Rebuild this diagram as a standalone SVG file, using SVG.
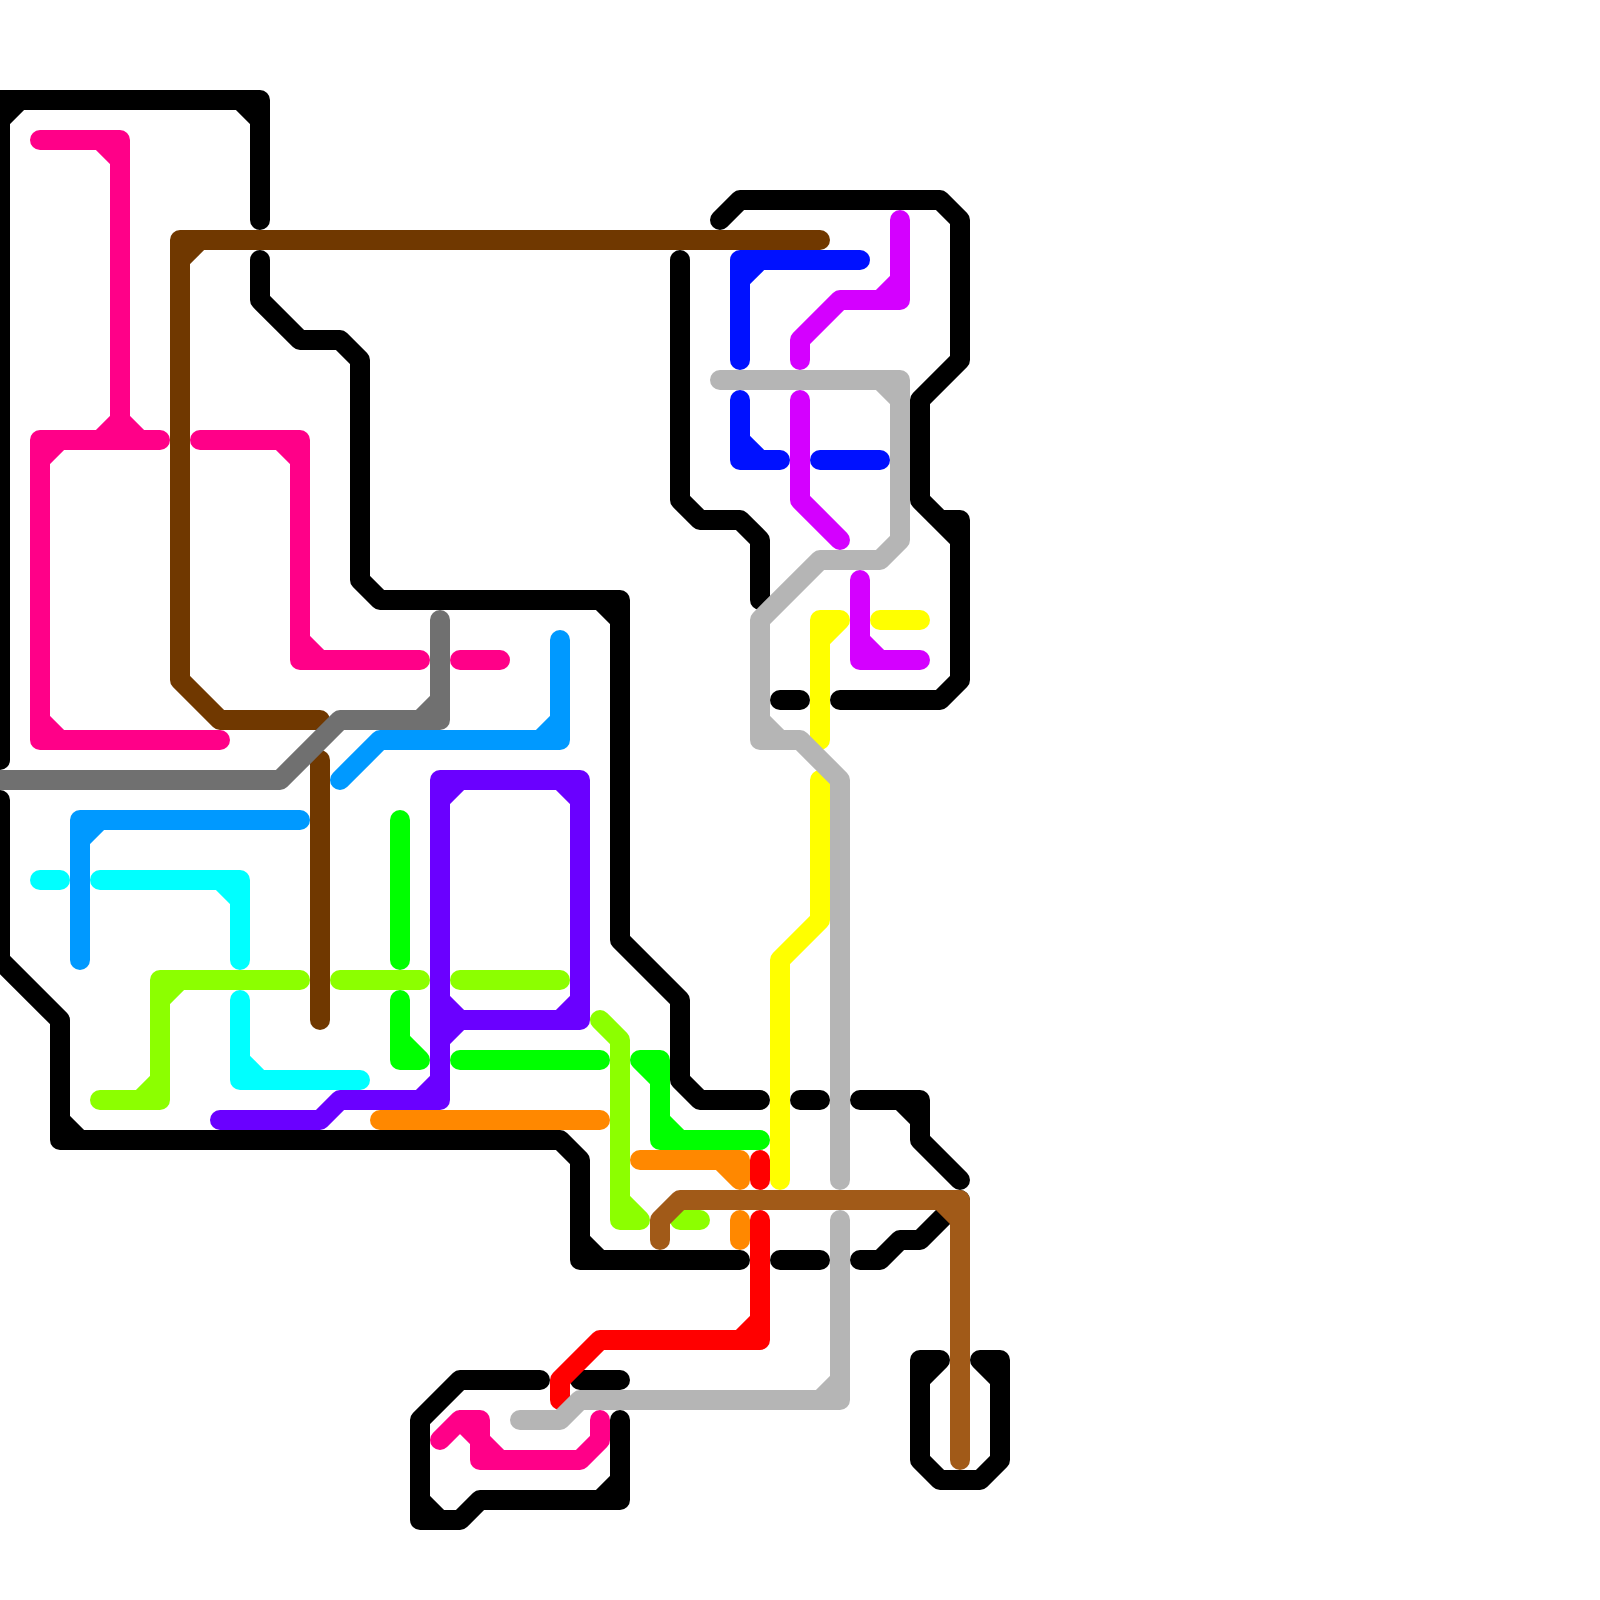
<svg xmlns="http://www.w3.org/2000/svg" width="1600" height="1600" viewBox="0 0 1600 1600">
<style>
path{fill:none;stroke-width:20;stroke-linecap:round;stroke-linejoin:round}
.k{stroke:#000}.y{stroke:#ff0}.r{stroke:#f00}.o{stroke:#f80}.l{stroke:#8cff00}.g{stroke:#0f0}.c{stroke:#0ff}.b{stroke:#09f}.u{stroke:#01f}.v{stroke:#6a00ff}.m{stroke:#d400ff}.p{stroke:#ff0088}.s{stroke:#b5b5b5}.d{stroke:#703800}.a{stroke:#707070}.t{stroke:#a15a18}
</style>
<rect width="1600" height="1600" fill="#fff"/>
<g id="connectors">
<path class="k" d="M0 760V100H260V220M0 120L20 100M240 100L260 120"/>
<path class="k" d="M0 800V960L60 1020V1140H560L580 1160V1260H740M60 1120L80 1140M580 1240L600 1260"/>
<path class="k" d="M260 260V300L300 340H340L360 360V580L380 600H620V940L680 1000V1080L700 1100H760M600 600L620 620"/>
<path class="k" d="M800 1100H820"/>
<path class="k" d="M860 1100H920V1140L960 1180M900 1100L920 1120"/>
<path class="k" d="M960 1200L920 1240H900L880 1260H860"/>
<path class="k" d="M780 1260H820"/>
<path class="k" d="M540 1380H460L420 1420V1520H460L480 1500H620V1420M420 1500L440 1520M600 1500L620 1480"/>
<path class="k" d="M580 1380H620"/>
<path class="k" d="M720 220L740 200H940L960 220V360L920 400V500L940 520H960V680L940 700H840M940 520L960 540"/>
<path class="k" d="M780 700H800"/>
<path class="k" d="M680 260V500L700 520H740L760 540V600"/>
<path class="k" d="M920 1360H940M920 1380L940 1360M920 1360V1460L940 1480H980L1000 1460V1360H980M980 1360L1000 1380"/>
<path class="y" d="M820 740V620H840M820 640L840 620"/>
<path class="y" d="M880 620H920"/>
<path class="y" d="M820 780V920L780 960V1180"/>
<path class="r" d="M760 1160V1180"/>
<path class="r" d="M760 1220V1340H600L560 1380V1400M740 1340L760 1320"/>
<path class="o" d="M380 1120H600"/>
<path class="o" d="M640 1160H740V1180M720 1160L740 1180"/>
<path class="o" d="M740 1220V1240"/>
<path class="l" d="M300 980H160V1100H100M160 1000L180 980M140 1100L160 1080"/>
<path class="l" d="M340 980H420"/>
<path class="l" d="M460 980H560"/>
<path class="l" d="M600 1020L620 1040V1220H640M620 1200L640 1220"/>
<path class="l" d="M680 1220H700"/>
<path class="g" d="M400 820V960"/>
<path class="g" d="M400 1000V1060H420M400 1040L420 1060"/>
<path class="g" d="M460 1060H600"/>
<path class="g" d="M640 1060H660V1140H760M640 1060L660 1080M660 1120L680 1140"/>
<path class="c" d="M40 880H60"/>
<path class="c" d="M100 880H240V960M220 880L240 900"/>
<path class="c" d="M240 1000V1080H360M240 1060L260 1080"/>
<path class="b" d="M340 780L380 740H560V640M540 740L560 720"/>
<path class="b" d="M300 820H80V960M80 840L100 820"/>
<path class="u" d="M860 260H740V360M740 280L760 260"/>
<path class="u" d="M740 400V460H780M740 440L760 460"/>
<path class="u" d="M820 460H880"/>
<path class="v" d="M220 1120H320L340 1100H440V780H580V1020H440M420 1100L440 1080M440 800L460 780M560 780L580 800M560 1020L580 1000M440 1000L460 1020M440 1040L460 1020"/>
<path class="m" d="M900 220V300H840L800 340V360M880 300L900 280"/>
<path class="m" d="M800 400V500L840 540"/>
<path class="m" d="M860 580V660H920M860 640L880 660"/>
<path class="p" d="M40 140H120V440M100 140L120 160M100 440L120 420L140 440"/>
<path class="p" d="M160 440H40V740H220M40 460L60 440M40 720L60 740"/>
<path class="p" d="M200 440H300V660H420M280 440L300 460M300 640L320 660"/>
<path class="p" d="M460 660H500"/>
<path class="p" d="M440 1440L460 1420H480V1460H580L600 1440V1420M460 1420L480 1440M480 1440L500 1460"/>
<path class="s" d="M720 380H900V540L880 560H820L760 620V740H800L840 780V1180M880 380L900 400M760 720L780 740"/>
<path class="s" d="M840 1220V1400H580L560 1420H520M820 1400L840 1380"/>
<path class="d" d="M820 240H180V680L220 720H320M180 260L200 240"/>
<path class="d" d="M320 760V1020"/>
<path class="a" d="M0 780H280L340 720H440V620M420 720L440 700"/>
<path class="t" d="M660 1240V1220L680 1200H960V1460M940 1200L960 1220"/>
</g>
</svg>
